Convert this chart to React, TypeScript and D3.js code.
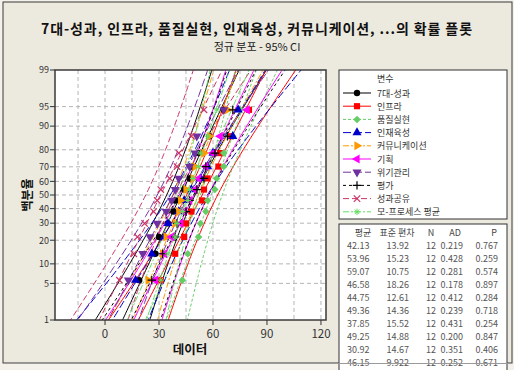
import React from 'react';
import * as d3 from 'd3';

const categories = ['7대-성과', '인프라', '품질실현', '인재육성', '커뮤니케이션', '기획', '위기관리', '평가', '성과공유', '모-프로세스 평균'];

const perf = [19, 28, 30, 35, 38, 39, 44, 47, 48, 52, 58, 66];
const infra = [31, 39, 45, 44, 48, 54, 55, 57, 63, 64, 70, 80];
const quality = [43, 46, 52, 53, 56, 57, 61, 62, 66, 66, 71, 75];
const talent = [17, 26, 33, 35, 41, 44, 48, 53, 57, 60, 71, 74];
const comm = [24, 32, 34, 39, 41, 42, 45, 49, 50, 55, 58, 68];
const plan = [28, 33, 37, 42, 44, 47, 50, 52, 56, 60, 64, 79];
const risk = [13, 21, 25, 29, 34, 37, 39, 41, 47, 50, 51, 66];
const evalv = [26, 32, 39, 40, 45, 47, 51, 55, 56, 61, 68, 71];
const share = [8, 16, 18, 22, 27, 29, 31, 36, 40, 41, 48, 55];
const processAvg = [31, 35, 39, 40, 43, 46, 47, 49, 52, 53, 57, 62];
const seriesValues = [perf, infra, quality, talent, comm, plan, risk, evalv, share, processAvg];

// summary table
const meanLabels = ['42.13', '53.96', '59.07', '46.58', '44.75', '49.36', '37.85', '49.25', '30.92', '46.15'];
const sdLabels = ['13.92', '15.23', '10.75', '18.26', '12.61', '14.36', '15.52', '14.88', '14.67', '9.922'];
const nLabels = ['12', '12', '12', '12', '12', '12', '12', '12', '12', '12'];
const adLabels = ['0.219', '0.428', '0.281', '0.178', '0.412', '0.239', '0.431', '0.200', '0.351', '0.252'];
const pLabels = ['0.767', '0.259', '0.574', '0.897', '0.284', '0.718', '0.254', '0.847', '0.406', '0.671'];

const yTicks = [1, 5, 10, 20, 30, 40, 50, 60, 70, 80, 90, 95, 99];
const xTicks = [0, 30, 60, 90, 120];
const xGrid = [-15, 0, 15, 30, 45, 60, 75, 90, 105, 120];

const colors = ['#000000', '#ff0000', '#66cc66', '#0000cc', '#ff9900', '#ff00ff', '#7030a0', '#000000', '#cc3366', '#66dd66'];
const dashes = ['', '', '3,2', '8,3', '6,2,2,2', '', '8,3', '3,3', '6,3', '6,2,2,2'];
const shapes = ['circle', 'square', 'diamond', 'up', 'right', 'left', 'down', 'plus', 'x', 'star'];

// inverse normal cdf (Acklam)
function probit(p: number): number {
  const a = [-39.6968302866538, 220.946098424521, -275.928510446969, 138.357751867269, -30.6647980661472, 2.50662827745924];
  const b = [-54.4761016777189, 161.585836858041, -155.698979859887, 66.8013118877197, -13.2806815528857];
  const c = [-0.00778489400243029, -0.322396458041136, -2.40075827716184, -2.54973253934373, 4.37466414146497, 2.93816398269878];
  const d = [0.00778469570904146, 0.32246712907004, 2.445134137143, 3.75440866190742];
  const pl = 0.02425;
  if (p < pl) {
    const q = Math.sqrt(-2 * Math.log(p));
    return (((((c[0] * q + c[1]) * q + c[2]) * q + c[3]) * q + c[4]) * q + c[5]) / ((((d[0] * q + d[1]) * q + d[2]) * q + d[3]) * q + 1);
  }
  if (p > 1 - pl) {
    const q = Math.sqrt(-2 * Math.log(1 - p));
    return -(((((c[0] * q + c[1]) * q + c[2]) * q + c[3]) * q + c[4]) * q + c[5]) / ((((d[0] * q + d[1]) * q + d[2]) * q + d[3]) * q + 1);
  }
  const q = p - 0.5;
  const r = q * q;
  return (((((a[0] * r + a[1]) * r + a[2]) * r + a[3]) * r + a[4]) * r + a[5]) * q / (((((b[0] * r + b[1]) * r + b[2]) * r + b[3]) * r + b[4]) * r + 1);
}

const W = 514;
const H = 370;
const plot = { left: 55, right: 326, top: 70, bottom: 320 };
const font = '"Noto Sans CJK KR", "DejaVu Sans", sans-serif';

const x = d3.scaleLinear().domain([-27.8, 122.8]).range([plot.left, plot.right]);
const y = d3.scaleLinear().domain([probit(0.01), probit(0.99)]).range([plot.bottom, plot.top]);

function Marker({ shape, cx, cy, color, s = 1 }: { shape: string; cx: number; cy: number; color: string; s?: number }) {
  const r = 3.2 * s;
  if (shape === 'plus') {
    return <path d={`M${cx - r - 1},${cy}H${cx + r + 1}M${cx},${cy - r - 1}V${cy + r + 1}`} stroke={color} strokeWidth={1.2} fill="none" />;
  }
  if (shape === 'x') {
    return <path d={`M${cx - r},${cy - r}L${cx + r},${cy + r}M${cx - r},${cy + r}L${cx + r},${cy - r}`} stroke={color} strokeWidth={1.2} fill="none" />;
  }
  if (shape === 'star') {
    return <path d={`M${cx - r},${cy}H${cx + r}M${cx},${cy - r}V${cy + r}M${cx - r * 0.7},${cy - r * 0.7}L${cx + r * 0.7},${cy + r * 0.7}M${cx - r * 0.7},${cy + r * 0.7}L${cx + r * 0.7},${cy - r * 0.7}`} stroke={color} strokeWidth={1} fill="none" />;
  }
  const typeMap: Record<string, d3.SymbolType> = {
    circle: d3.symbolCircle,
    square: d3.symbolSquare,
    diamond: d3.symbolDiamond2,
    up: d3.symbolTriangle,
    right: d3.symbolTriangle,
    left: d3.symbolTriangle,
    down: d3.symbolTriangle,
  };
  const rot: Record<string, number> = { up: 0, right: 90, left: -90, down: 180 };
  const size = shape === 'circle' ? 32 * s * s : shape === 'square' ? 38 * s * s : 36 * s * s;
  const d = d3.symbol().type(typeMap[shape]).size(size)() as string;
  return <path d={d} fill={color} transform={`translate(${cx},${cy}) rotate(${rot[shape] ?? 0})`} />;
}

const App: React.FC = () => {
  const zs = d3.range(-2.8, 2.81, 0.05);
  const line = d3.line<[number, number]>().x(d => x(d[0])).y(d => y(d[1]));

  const fits = seriesValues.map((vals, i) => {
    const mu = +meanLabels[i];
    const sd = +sdLabels[i];
    const n = vals.length;
    const fit = zs.map(z => [mu + z * sd, z] as [number, number]);
    const lo = zs.map(z => [mu + z * sd - 1.96 * sd * Math.sqrt(1 / n + (z * z) / (2 * n)), z] as [number, number]);
    const hi = zs.map(z => [mu + z * sd + 1.96 * sd * Math.sqrt(1 / n + (z * z) / (2 * n)), z] as [number, number]);
    return { fit, lo, hi };
  });

  const points = seriesValues.map(vals => {
    const n = vals.length;
    return [...vals].sort((a, b) => a - b).map((v, k) => ({ v, z: probit((k + 1 - 0.3) / (n + 0.4)) }));
  });

  const legendX = 339;
  const legendY = 70;
  const tableY = 224;

  return (
    <svg width={W} height={H} style={{ position: 'absolute', left: 0, top: 0 }} fontFamily={font}>
      <rect x={0} y={0} width={W} height={H} fill="#f3f1ea" />
      <rect x={3} y={2} width={509} height={361} fill="#ece9df" stroke="#3a3a3a" strokeWidth={1} />

      <text x={257} y={34} textAnchor="middle" fontSize={14} fontWeight="bold" fill="#111" letterSpacing={0.9}>
        7대-성과, 인프라, 품질실현, 인재육성, 커뮤니케이션, ...의 확률 플롯
      </text>
      <text x={257} y={51} textAnchor="middle" fontSize={11} fill="#222">정규 분포 - 95% CI</text>

      <defs>
        <clipPath id="plotClip">
          <rect x={plot.left} y={plot.top} width={plot.right - plot.left} height={plot.bottom - plot.top} />
        </clipPath>
      </defs>

      <rect x={plot.left} y={plot.top} width={plot.right - plot.left} height={plot.bottom - plot.top} fill="#fff" />

      {yTicks.filter(t => t !== 1 && t !== 99).map(t => (
        <line key={`gy${t}`} x1={plot.left} x2={plot.right} y1={y(probit(t / 100))} y2={y(probit(t / 100))} stroke="#b5b5b5" strokeDasharray="4,3" />
      ))}
      {xGrid.map(t => (
        <line key={`gx${t}`} x1={x(t)} x2={x(t)} y1={plot.top} y2={plot.bottom} stroke="#b5b5b5" strokeDasharray="4,3" />
      ))}

      <g clipPath="url(#plotClip)">
        {fits.map((f, i) => (
          <g key={`l${i}`} stroke={colors[i]} fill="none" strokeWidth={1} strokeDasharray={dashes[i] || undefined}>
            <path d={line(f.fit) as string} />
            <path d={line(f.lo) as string} />
            <path d={line(f.hi) as string} />
          </g>
        ))}
        {points.map((pts, i) => (
          <g key={`p${i}`}>
            {pts.map((p, k) => (
              <Marker key={k} shape={shapes[i]} cx={x(p.v)} cy={y(p.z)} color={colors[i]} />
            ))}
          </g>
        ))}
      </g>

      <rect x={plot.left} y={plot.top} width={plot.right - plot.left} height={plot.bottom - plot.top} fill="none" stroke="#3a3a3a" strokeWidth={1.5} />

      {yTicks.map(t => (
        <g key={`ty${t}`}>
          <line x1={plot.left - 5} x2={plot.left} y1={y(probit(t / 100))} y2={y(probit(t / 100))} stroke="#333" />
          <text x={plot.left - 6} y={y(probit(t / 100)) + 3.3} textAnchor="end" fontSize={9} fill="#333">{t}</text>
        </g>
      ))}
      {xTicks.map(t => (
        <g key={`tx${t}`}>
          <line x1={x(t)} x2={x(t)} y1={plot.bottom} y2={plot.bottom + 5} stroke="#333" />
          <text x={x(t)} y={plot.bottom + 18} textAnchor="middle" fontSize={11.5} fill="#333">{t}</text>
        </g>
      ))}

      <text x={190} y={354} textAnchor="middle" fontSize={12.5} fontWeight="bold" fill="#111">데이터</text>
      <text transform={`translate(32,${(plot.top + plot.bottom) / 2}) rotate(-90)`} textAnchor="middle" fontSize={12} fontWeight="bold" fill="#111">백분율</text>

      <rect x={legendX} y={legendY} width={168} height={149} fill="#fff" stroke="#333" />
      <text x={377} y={82} fontSize={9} fill="#333">변수</text>
      {categories.map((c, i) => {
        const ly = 93 + i * 13.2;
        return (
          <g key={`lg${i}`}>
            <line x1={343} x2={371} y1={ly} y2={ly} stroke={colors[i]} strokeDasharray={dashes[i] || undefined} />
            <Marker shape={shapes[i]} cx={357} cy={ly} color={colors[i]} />
            <text x={377} y={ly + 3.5} fontSize={9} fill="#333">{c}</text>
          </g>
        );
      })}

      <g>
        <rect x={legendX} y={tableY} width={168} height={160} fill="#fff" stroke="#333" />
        <text x={363} y={236} textAnchor="middle" fontSize={9} fill="#444">평균</text>
        <text x={397} y={236} textAnchor="middle" fontSize={9} fill="#444">표준 편차</text>
        <text x={431} y={236} textAnchor="middle" fontSize={9} fill="#444">N</text>
        <text x={461} y={236} textAnchor="end" fontSize={9} fill="#444">AD</text>
        <text x={497} y={236} textAnchor="end" fontSize={9} fill="#444">P</text>
        {meanLabels.map((m, i) => {
          const ty = 249 + i * 13;
          return (
            <g key={`tr${i}`} fontSize={9} fill="#555">
              <text x={347} y={ty}>{m}</text>
              <text x={409} y={ty} textAnchor="end">{sdLabels[i]}</text>
              <text x={431} y={ty} textAnchor="middle">{nLabels[i]}</text>
              <text x={463} y={ty} textAnchor="end">{adLabels[i]}</text>
              <text x={498} y={ty} textAnchor="end">{pLabels[i]}</text>
            </g>
          );
        })}
      </g>
      <line x1={3} x2={512} y1={363.5} y2={363.5} stroke="#9a9a9a" />
    </svg>
  );
};

export default App;
